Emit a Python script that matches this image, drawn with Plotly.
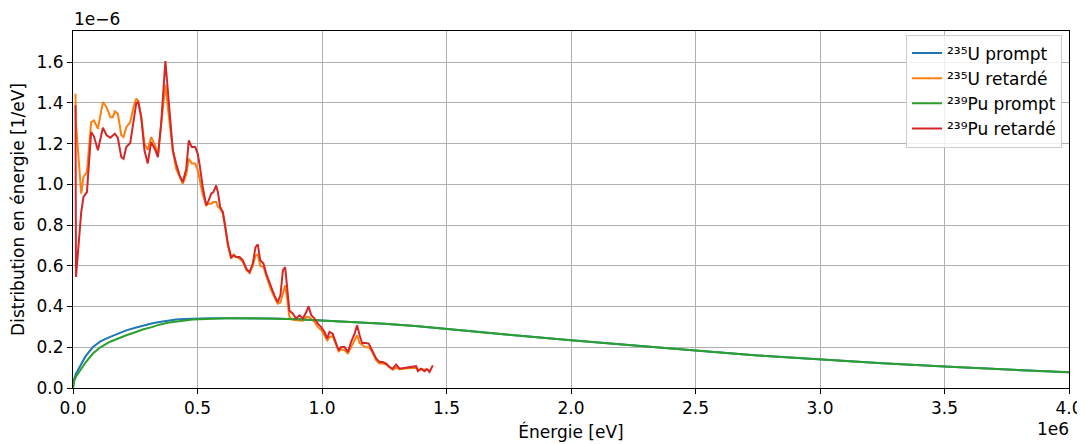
import numpy as np
import plotly.graph_objects as go

# prompt spectra, energies in keV, values in 1e-6 /eV
E_prompt = [0, 5, 12, 26, 50, 80, 110, 147, 180, 214, 250, 280, 320, 347, 380, 414, 450, 481,
            550, 620, 700, 800, 900, 1000, 1125, 1250, 1375, 1500, 1750, 2000, 2250, 2500,
            2750, 3000, 3250, 3500, 3750, 4000]
u235_prompt = [0, 0.045, 0.070, 0.103, 0.155, 0.201, 0.229, 0.250, 0.268, 0.283, 0.296, 0.306,
               0.318, 0.324, 0.331, 0.336, 0.339, 0.341, 0.342, 0.343, 0.343, 0.341, 0.338,
               0.332, 0.324, 0.315, 0.304, 0.291, 0.262, 0.234, 0.208, 0.184, 0.160, 0.140,
               0.122, 0.105, 0.090, 0.077]
pu239_prompt = [0, 0.035, 0.055, 0.079, 0.125, 0.169, 0.200, 0.226, 0.243, 0.259, 0.274, 0.287,
                0.300, 0.311, 0.320, 0.327, 0.332, 0.336, 0.340, 0.342, 0.343, 0.341, 0.338,
                0.332, 0.324, 0.315, 0.304, 0.291, 0.262, 0.234, 0.208, 0.184, 0.160, 0.140,
                0.122, 0.105, 0.090, 0.077]

# delayed spectra
E_delayed = [10, 12, 33, 42, 56, 73, 84, 100, 120, 135, 150, 160, 168, 180, 194, 203, 214, 230,
             243, 254, 262, 274, 287, 300, 314, 330, 341, 354, 371, 388, 401, 414, 428, 441,
             455, 465, 477, 491, 501, 508, 521, 535, 545, 555, 564, 575, 582, 591, 602, 612,
             622, 635, 645, 655, 669, 682, 696, 709, 722, 733, 742, 752, 765, 776, 789, 796,
             809, 822, 833, 843, 852, 860, 869, 883, 896, 910, 923, 937, 946, 957, 970, 983,
             997, 1010, 1021, 1030, 1043, 1057, 1067, 1077, 1090, 1104, 1117, 1131, 1141,
             1151, 1161, 1175, 1188, 1198, 1204, 1218, 1231, 1244, 1258, 1271, 1284, 1298,
             1311, 1325, 1338, 1358, 1378, 1385, 1398, 1412, 1421, 1432, 1445]
pu239_delayed = [1.388, 0.545, 0.864, 0.938, 0.962, 1.257, 1.236, 1.167, 1.278, 1.241, 1.229,
                 1.240, 1.249, 1.229, 1.134, 1.126, 1.183, 1.203, 1.298, 1.399, 1.404, 1.330,
                 1.167, 1.102, 1.208, 1.170, 1.134, 1.300, 1.605, 1.330, 1.167, 1.102, 1.044,
                 1.011, 1.077, 1.216, 1.183, 1.183, 1.150, 1.100, 0.987, 0.897, 0.921, 0.954,
                 0.962, 0.995, 0.960, 0.889, 0.864, 0.790, 0.709, 0.643, 0.651, 0.643, 0.643,
                 0.627, 0.586, 0.569, 0.611, 0.692, 0.705, 0.627, 0.611, 0.562, 0.513, 0.496,
                 0.455, 0.422, 0.455, 0.578, 0.594, 0.496, 0.381, 0.365, 0.341, 0.357, 0.341,
                 0.373, 0.401, 0.357, 0.341, 0.316, 0.299, 0.275, 0.243, 0.275, 0.267, 0.218,
                 0.185, 0.201, 0.201, 0.177, 0.226, 0.267, 0.308, 0.259, 0.221, 0.221, 0.218,
                 0.193, 0.177, 0.144, 0.128, 0.128, 0.120, 0.103, 0.095, 0.115, 0.095, 0.098,
                 0.098, 0.103, 0.107, 0.083, 0.095, 0.083, 0.093, 0.079, 0.111]
u235_delayed = [1.445, 1.300, 0.954, 1.036, 1.060, 1.306, 1.314, 1.273, 1.404, 1.379, 1.330,
                1.330, 1.358, 1.347, 1.241, 1.232, 1.281, 1.306, 1.380, 1.421, 1.410, 1.330,
                1.200, 1.170, 1.232, 1.190, 1.142, 1.280, 1.490, 1.300, 1.167, 1.077, 1.036,
                1.003, 1.050, 1.126, 1.102, 1.102, 1.070, 1.030, 0.950, 0.897, 0.905, 0.905,
                0.913, 0.913, 0.890, 0.880, 0.855, 0.780, 0.700, 0.635, 0.655, 0.645, 0.635,
                0.620, 0.580, 0.565, 0.600, 0.651, 0.655, 0.600, 0.594, 0.550, 0.500, 0.480,
                0.445, 0.414, 0.420, 0.470, 0.504, 0.440, 0.349, 0.335, 0.332, 0.332, 0.330,
                0.349, 0.350, 0.340, 0.325, 0.300, 0.285, 0.259, 0.234, 0.250, 0.255, 0.210,
                0.180, 0.190, 0.185, 0.170, 0.200, 0.230, 0.259, 0.220, 0.210, 0.200, 0.200,
                0.185, 0.170, 0.135, 0.120, 0.120, 0.115, 0.100, 0.090, 0.100, 0.092, 0.095,
                0.095, 0.098, 0.100, 0.090, 0.092, 0.090, 0.090, 0.088]

y_ticks = [0.0, 0.2, 0.4, 0.6, 0.8, 1.0, 1.2, 1.4, 1.6]
x_ticks = [0.0, 0.5, 1.0, 1.5, 2.0, 2.5, 3.0, 3.5, 4.0]

series = [
    ("²³⁵U prompt", E_prompt, u235_prompt, "#1f77b4"),
    ("²³⁵U retardé", E_delayed[:len(u235_delayed)], u235_delayed, "#ff7f0e"),
    ("²³⁹Pu prompt", E_prompt, pu239_prompt, "#2ca02c"),
    ("²³⁹Pu retardé", E_delayed, pu239_delayed, "#d62728"),
]

FS = 17

fig = go.Figure()
for name, e, v, c in series:
    fig.add_trace(go.Scatter(x=np.array(e) * 1e3, y=np.array(v) * 1e-6, mode="lines", name=name,
                             line=dict(color=c, width=2)))

axis_common = dict(showline=True, linecolor="#000000", linewidth=1, mirror=True,
                   showgrid=True, gridcolor="#b0b0b0", gridwidth=0.8,
                   ticks="outside", ticklen=5, tickwidth=1, tickcolor="#000000",
                   zeroline=False, automargin=False, tickfont=dict(size=FS, color="#000000"))

fig.update_xaxes(range=[0, 4e6], tickvals=[t * 1e6 for t in x_ticks],
                 ticktext=[f"{t:.1f}" for t in x_ticks],
                 title=dict(text="Énergie [eV]", font=dict(size=FS, color="#000000"), standoff=8),
                 **axis_common)
fig.update_yaxes(range=[0, 1.753e-6], tickvals=[t * 1e-6 for t in y_ticks],
                 ticktext=[f"{t:.1f}" for t in y_ticks],
                 title=dict(text="Distribution en énergie [1/eV]", font=dict(size=FS, color="#000000"),
                            standoff=8),
                 **axis_common)

fig.add_annotation(text="1e−6", xref="paper", yref="paper", x=0, y=1, xanchor="left",
                   yanchor="bottom", showarrow=False, yshift=0, xshift=-1,
                   font=dict(size=FS, color="#000000"))
fig.add_annotation(text="1e6", xref="paper", yref="paper", x=1, y=0, xanchor="right",
                   yanchor="top", showarrow=False, yshift=-29, xshift=2,
                   font=dict(size=FS, color="#000000"))

# the page body keeps an 8px margin, so the figure is 8px smaller and margins shifted
fig.update_layout(
    width=1077, height=436,
    margin=dict(l=65, r=16, t=23, b=56),
    paper_bgcolor="white", plot_bgcolor="white",
    font=dict(family="DejaVu Sans", size=FS, color="#000000"),
    legend=dict(x=0.993, y=0.99, xanchor="right", yanchor="top",
                bgcolor="rgba(255,255,255,0.8)", bordercolor="#cccccc", borderwidth=1,
                font=dict(size=FS), tracegroupgap=0),
)

fig.write_html("out.html")
